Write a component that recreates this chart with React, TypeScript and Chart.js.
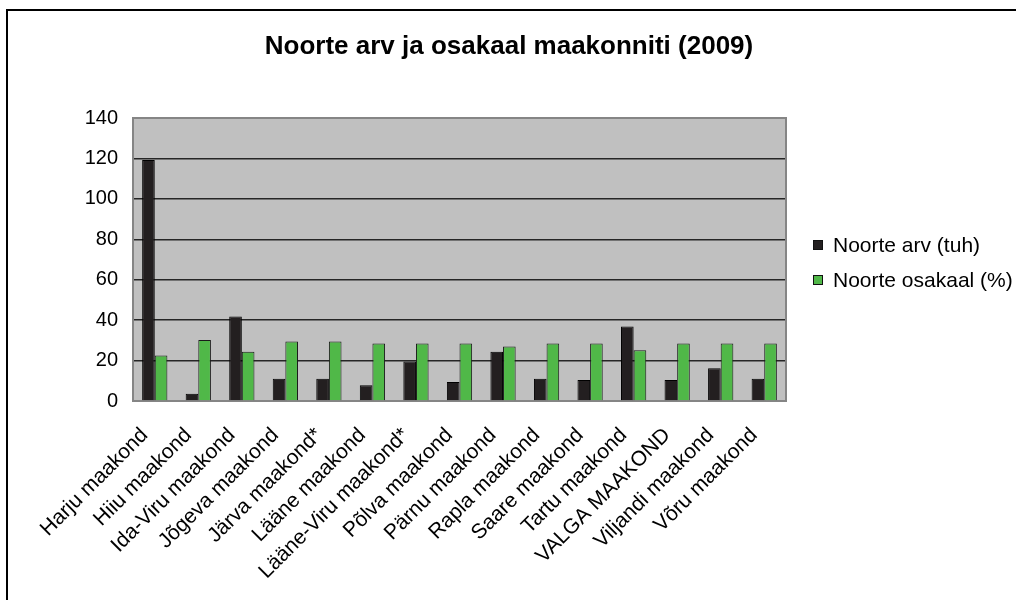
import React, { useEffect, useRef } from "react";
import { Chart, registerables } from "chart.js";

Chart.register(...registerables);

const titleText = "Noorte arv ja osakaal maakonniti (2009)";
const categories = [
  "Harju maakond",
  "Hiiu maakond",
  "Ida-Viru maakond",
  "Jõgeva maakond",
  "Järva maakond*",
  "Lääne maakond",
  "Lääne-Viru maakond*",
  "Põlva maakond",
  "Pärnu maakond",
  "Rapla maakond",
  "Saare maakond",
  "Tartu maakond",
  "VALGA MAAKOND",
  "Viljandi maakond",
  "Võru maakond",
];
const seriesNames = ["Noorte arv (tuh)", "Noorte osakaal (%)"];
const noorteArv = [119.2, 3.6, 41.8, 11, 11, 7.8, 19.6, 9.4, 24.4, 11, 10.4, 36.8, 10.4, 16.2, 11];
const noorteOsakaal = [22.5, 30.2, 24.4, 29.4, 29.4, 28.4, 28.4, 28.4, 26.9, 28.4, 28.4, 25.1, 28.4, 28.4, 28.4];
const yMin = 0;
const yMax = 140;
const yStep = 20;

const FONT = "'Liberation Sans', Arial, sans-serif";

const plotBgPlugin = {
  id: "plotBg",
  beforeDraw(chart: any) {
    const { ctx, chartArea } = chart;
    ctx.save();
    ctx.fillStyle = "#c0c0c0";
    ctx.fillRect(chartArea.left, chartArea.top, chartArea.right - chartArea.left, chartArea.bottom - chartArea.top);
    ctx.restore();
  },
  beforeDatasetsDraw(chart: any) {
    const { ctx, chartArea } = chart;
    ctx.save();
    ctx.strokeStyle = "#858585";
    ctx.lineWidth = 2;
    ctx.strokeRect(chartArea.left, chartArea.top, chartArea.right - chartArea.left, chartArea.bottom - chartArea.top);
    ctx.restore();
  },
};

const titlePlugin = {
  id: "customTitle",
  afterDraw(chart: any) {
    const { ctx } = chart;
    ctx.save();
    ctx.fillStyle = "#000";
    ctx.font = `bold 26px ${FONT}`;
    ctx.textAlign = "center";
    ctx.textBaseline = "middle";
    ctx.fillText(titleText, chart.width / 2 + 1, 47);
    ctx.restore();
  },
};

const legendPlugin = {
  id: "customLegend",
  afterDraw(chart: any) {
    const { ctx, chartArea } = chart;
    const x = chartArea.right + 27;
    const y0 = chartArea.top + 127;
    ctx.save();
    chart.data.datasets.forEach((ds: any, i: number) => {
      const cy = y0 + i * 35;
      ctx.fillStyle = ds.backgroundColor;
      ctx.fillRect(x, cy - 5, 10, 10);
      ctx.strokeStyle = "#111";
      ctx.lineWidth = 1;
      ctx.strokeRect(x + 0.5, cy - 4.5, 9, 9);
      ctx.fillStyle = "#000";
      ctx.font = `21px ${FONT}`;
      ctx.textBaseline = "middle";
      ctx.textAlign = "left";
      ctx.fillText(ds.label, x + 20, cy + 1);
    });
    ctx.restore();
  },
};

export default function App() {
  const ref = useRef<HTMLCanvasElement | null>(null);

  useEffect(() => {
    if (!ref.current) return;
    const chart = new Chart(ref.current, {
      type: "bar",
      data: {
        labels: categories,
        datasets: [
          {
            label: seriesNames[0],
            data: noorteArv,
            backgroundColor: "#231f20",
            borderColor: "#000000",
            borderWidth: 1,
            categoryPercentage: 0.58,
            barPercentage: 1.0,
          },
          {
            label: seriesNames[1],
            data: noorteOsakaal,
            backgroundColor: "#50b848",
            borderColor: "#1a1a1a",
            borderWidth: 1,
            categoryPercentage: 0.58,
            barPercentage: 1.0,
          },
        ],
      },
      options: {
        responsive: false,
        animation: false,
        layout: { padding: { left: 0, right: 230, top: 118, bottom: 0 } },
        plugins: {
          legend: { display: false },
          tooltip: { enabled: false },
          title: { display: false },
        },
        scales: {
          x: {
            grid: { display: false },
            border: { display: false },
            ticks: {
              color: "#000",
              font: { family: FONT, size: 21 },
              maxRotation: 45,
              minRotation: 45,
              padding: 14,
              labelOffset: -10,
              autoSkip: false,
            },
            afterFit(scale: any) {
              scale.height = 199;
            },
          },
          y: {
            min: yMin,
            max: yMax,
            grid: {
              drawTicks: false,
              color: (c: any) =>
                c.tick && (c.tick.value === yMin || c.tick.value === yMax) ? "rgba(0,0,0,0)" : "#262626",
              lineWidth: 1.5,
            },
            border: { display: false },
            ticks: {
              stepSize: yStep,
              color: "#000",
              font: { family: FONT, size: 20 },
              padding: 15,
            },
            afterFit(scale: any) {
              scale.width = 133;
            },
          },
        },
      },
      plugins: [plotBgPlugin, titlePlugin, legendPlugin],
    });
    return () => chart.destroy();
  }, []);

  return (
    <div
      style={{
        position: "fixed",
        left: 0,
        top: 0,
        width: 1016,
        height: 600,
        overflow: "hidden",
        background: "#fff",
      }}
    >
      <canvas ref={ref} width={1016} height={600} style={{ position: "absolute", left: 0, top: 0 }} />
      <div
        style={{
          position: "absolute",
          left: 6,
          top: 9,
          width: 1100,
          height: 700,
          border: "2px solid #000",
          pointerEvents: "none",
        }}
      />
    </div>
  );
}
